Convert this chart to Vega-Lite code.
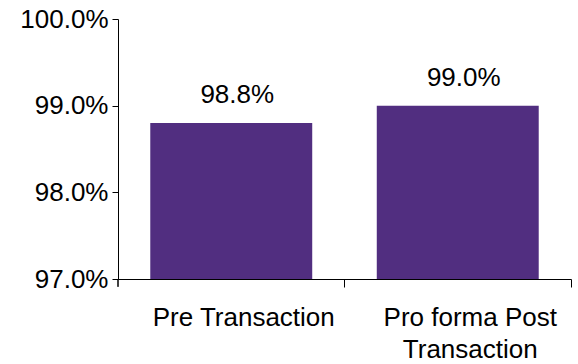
{
  "$schema": "https://vega.github.io/schema/vega-lite/v6.json",
  "width": 453,
  "height": 260,
  "autosize": "none",
  "padding": {"left": 118, "top": 19, "right": 7, "bottom": 85},
  "background": "white",
  "config": {"view": {"stroke": null}, "font": "Liberation Sans"},
  "data": {"values": [
    {"category": "Pre Transaction", "value": 0.988},
    {"category": "Pro forma Post Transaction", "value": 0.990}
  ]},
  "encoding": {
    "x": {
      "field": "category", "type": "nominal", "sort": null,
      "scale": {"paddingInner": 0, "paddingOuter": 0},
      "axis": {
        "title": null, "labelAngle": 0, "bandPosition": 1, "labelOffset": 12.5,
        "tickSize": 8, "tickColor": "black", "domainColor": "black", "labelColor": "black",
        "labelFontSize": 26, "labelLineHeight": 32, "labelPadding": 17, "labelLimit": 0, "labelFont": "Liberation Sans",
        "labelExpr": "datum.label == 'Pro forma Post Transaction' ? ['Pro forma Post', 'Transaction'] : datum.label"
      }
    }
  },
  "layer": [
    {
      "mark": {"type": "bar", "color": "#512E80", "width": {"band": 0.715}},
      "encoding": {
        "y": {
          "field": "value", "type": "quantitative",
          "scale": {"domain": [0.97, 1.0], "zero": false, "nice": false},
          "axis": {
            "title": null, "values": [0.97, 0.98, 0.99, 1.0], "format": ".1%",
            "grid": false, "tickSize": 6, "tickColor": "black", "domainColor": "black",
            "labelColor": "black", "labelFontSize": 26, "labelPadding": 4, "labelFont": "Liberation Sans"
          }
        },
        "y2": {"datum": 0.97}
      }
    },
    {
      "mark": {"type": "text", "baseline": "alphabetic", "dy": -20, "dx": 6, "fontSize": 26, "color": "black", "font": "Liberation Sans"},
      "encoding": {
        "y": {"field": "value", "type": "quantitative"},
        "text": {"field": "value", "type": "quantitative", "format": ".1%"}
      }
    },
    {
      "mark": {"type": "rule", "color": "black"},
      "encoding": {
        "x": {"datum": "Pre Transaction", "bandPosition": 0},
        "y": {"datum": 0.97},
        "y2": {"datum": 0.9691}
      }
    }
  ]
}
